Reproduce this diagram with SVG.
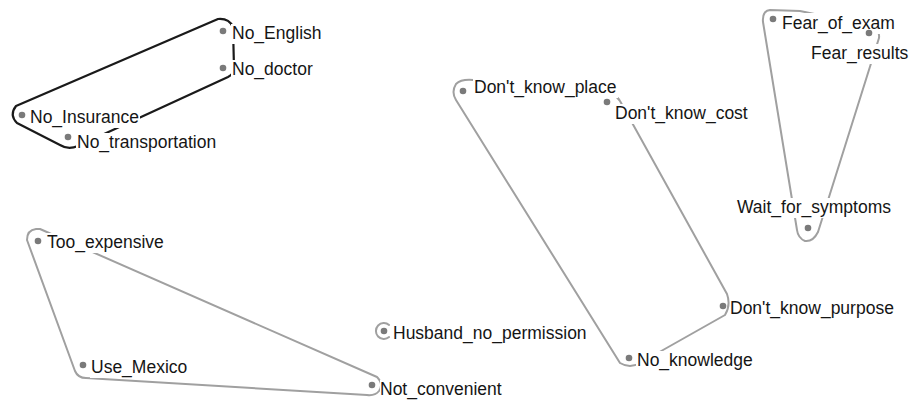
<svg xmlns="http://www.w3.org/2000/svg" width="913" height="401" viewBox="0 0 913 401">
<style>
.hull{fill:none;stroke:#a0a0a0;stroke-width:2;stroke-linejoin:round;stroke-linecap:round}
.hull.dark{stroke:#1a1a1a;stroke-width:2.2}
.dot{fill:#7a7a7a}
.bg{fill:#fff}
.lbl{font-family:"Liberation Sans",Arial,sans-serif;font-size:17.5px;fill:#151515}
</style>
<rect width="913" height="401" fill="#fff"/>
<g id="connectors">
<path class="hull dark" d="M218,19 Q229,18 233,27 L234,68 Q234,74 228,77 L78,146 Q68,150 60,145 L17,123 Q9,115 16,106 Z"/>
<path class="hull" d="M40,229 L377,377 Q384,384 379,391 Q375,396 367,395 L86,378 Q78,378 75,371 L27,240 Q27,230 36,229 Z"/>
<path class="hull" d="M389.1,324.9 A8,8 0 1 0 389.1,337.1"/>
<path class="hull" d="M473,80 L613,95 Q618,97 620,101 L727,294 Q731,305 725,315 L640,363 Q630,369 620,363 L456,100 Q451,92 456,84 Q461,79 473,80 Z"/>
<path class="hull" d="M770,10 L800,11 L872,26 Q880,29 879,38 L818,232 Q813,242 805,241 Q798,238 797,230 L763,22 Q762,11 770,10 Z"/>
</g>
<g id="No_English"><circle class="dot" cx="223" cy="31" r="3.3"/><rect class="bg" x="231" y="24" width="92" height="20"/><text class="lbl" x="232" y="39">No_English</text></g>
<g id="No_doctor"><circle class="dot" cx="223" cy="68" r="3.3"/><rect class="bg" x="231" y="60" width="83" height="20"/><text class="lbl" x="232" y="75">No_doctor</text></g>
<g id="No_Insurance"><circle class="dot" cx="22" cy="115" r="3.3"/><rect class="bg" x="29" y="108" width="111" height="20"/><text class="lbl" x="30" y="123">No_Insurance</text></g>
<g id="No_transportation"><circle class="dot" cx="68" cy="137" r="3.3"/><rect class="bg" x="76" y="133" width="141" height="20"/><text class="lbl" x="77" y="148">No_transportation</text></g>
<g id="Too_expensive"><circle class="dot" cx="38" cy="241" r="3.3"/><rect class="bg" x="46" y="233" width="122" height="20"/><text class="lbl" x="47" y="248">Too_expensive</text></g>
<g id="Use_Mexico"><circle class="dot" cx="83" cy="365" r="3.3"/><rect class="bg" x="90" y="358" width="98" height="20"/><text class="lbl" x="91" y="373">Use_Mexico</text></g>
<g id="Not_convenient"><circle class="dot" cx="372" cy="385" r="3.3"/><rect class="bg" x="380" y="380" width="123" height="20"/><text class="lbl" x="380" y="395">Not_convenient</text></g>
<g id="Husband_no_permission"><circle class="dot" cx="384" cy="331" r="3.3"/><rect class="bg" x="392" y="324" width="196" height="20"/><text class="lbl" x="393" y="339">Husband_no_permission</text></g>
<g id="Dont_know_place"><circle class="dot" cx="463" cy="91" r="3.3"/><rect class="bg" x="473" y="78" width="145" height="20"/><text class="lbl" x="474" y="93">Don't_know_place</text></g>
<g id="Dont_know_cost"><circle class="dot" cx="607" cy="102" r="3.3"/><rect class="bg" x="614" y="104" width="135" height="20"/><text class="lbl" x="615" y="119">Don't_know_cost</text></g>
<g id="Dont_know_purpose"><circle class="dot" cx="723" cy="306" r="3.3"/><rect class="bg" x="730" y="299" width="166" height="20"/><text class="lbl" x="730" y="314">Don't_know_purpose</text></g>
<g id="No_knowledge"><circle class="dot" cx="629" cy="358" r="3.3"/><rect class="bg" x="636" y="351" width="118" height="20"/><text class="lbl" x="637" y="366">No_knowledge</text></g>
<g id="Fear_of_exam"><circle class="dot" cx="773" cy="19" r="3.3"/><rect class="bg" x="781" y="13" width="115" height="21"/><text class="lbl" x="782" y="29">Fear_of_exam</text></g>
<g id="Fear_results"><circle class="dot" cx="869" cy="33" r="3.3"/><rect class="bg" x="810" y="44" width="99" height="20"/><text class="lbl" x="811" y="59">Fear_results</text></g>
<g id="Wait_for_symptoms"><circle class="dot" cx="808" cy="228" r="3.3"/><rect class="bg" x="736" y="198" width="157" height="20"/><text class="lbl" x="737" y="213">Wait_for_symptoms</text></g>
</svg>
